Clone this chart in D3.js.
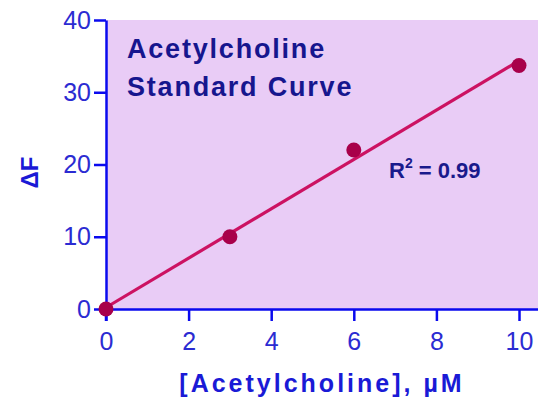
<!DOCTYPE html>
<html>
<head>
<meta charset="utf-8">
<script src="https://cdn.jsdelivr.net/npm/d3@7"></script>
<style>
  html, body { margin: 0; padding: 0; background: #fff; }
  svg { display: block; font-family: "Liberation Sans", Arial, sans-serif; }
</style>
</head>
<body>
<div id="chart"></div>
<script>
// data
const concentration = [0, 3, 6, 10];      // µM
const deltaF = [0, 10, 22, 33.7];
const xTicks = [0, 2, 4, 6, 8, 10];
const yTicks = [0, 10, 20, 30, 40];
const titleLines = ['Acetylcholine', 'Standard Curve'];
const rSquared = '0.99';

const width = 538, height = 404;
const margin = { top: 20, right: 0, bottom: 95, left: 106 };

const svg = d3.select('#chart').append('svg')
  .attr('width', width)
  .attr('height', height);

const x = d3.scaleLinear()
  .domain([0, 10.46])
  .range([margin.left, width - margin.right]);

const y = d3.scaleLinear()
  .domain([0, 40])
  .range([height - margin.bottom, margin.top]);

// plot background
svg.append('rect')
  .attr('x', x(0))
  .attr('y', y(40))
  .attr('width', x(10.46) - x(0))
  .attr('height', y(0) - y(40))
  .attr('fill', '#e9ccf6');

// least squares fit
const n = concentration.length;
const mx = d3.mean(concentration), my = d3.mean(deltaF);
let sxy = 0, sxx = 0;
for (let i = 0; i < n; i++) {
  sxy += (concentration[i] - mx) * (deltaF[i] - my);
  sxx += (concentration[i] - mx) ** 2;
}
const slope = sxy / sxx;
const intercept = my - slope * mx;

svg.append('line')
  .attr('x1', x(0)).attr('y1', y(intercept))
  .attr('x2', x(10)).attr('y2', y(intercept + slope * 10))
  .attr('stroke', '#cc1262')
  .attr('stroke-width', 3.2);

// Axes
const axisColor = '#0a0aee';
const tickColor = '#2b2bd2';
const tickFont = g => g.selectAll('text').attr('fill', tickColor).style('font-size', '25px')
  .style('font-family', '"Liberation Sans", Arial, sans-serif');

svg.append('g')
  .attr('transform', `translate(0,${y(0)})`)
  .call(d3.axisBottom(x).tickValues(xTicks).tickSize(12).tickPadding(11).tickSizeOuter(0))
  .call(g => g.select('.domain').attr('stroke', axisColor).attr('stroke-width', 2.5))
  .call(g => g.selectAll('.tick line').attr('stroke', axisColor).attr('stroke-width', 2.5))
  .call(tickFont);

svg.append('g')
  .attr('transform', `translate(${x(0)},0)`)
  .call(d3.axisLeft(y).tickValues(yTicks).tickSize(12).tickPadding(3).tickSizeOuter(0))
  .call(g => g.select('.domain').attr('stroke', axisColor).attr('stroke-width', 2.5))
  .call(g => g.selectAll('.tick line').attr('stroke', axisColor).attr('stroke-width', 2.5))
  .call(tickFont);

// y axis runs a little below the x axis, like the original
svg.append('line')
  .attr('x1', x(0)).attr('x2', x(0))
  .attr('y1', y(0)).attr('y2', y(0) + 12)
  .attr('stroke', axisColor)
  .attr('stroke-width', 2.5);

// Data points
svg.selectAll('circle.pt')
  .data(concentration)
  .enter().append('circle')
  .attr('class', 'pt')
  .attr('cx', (d, i) => x(d))
  .attr('cy', (d, i) => y(deltaF[i]))
  .attr('r', 7.5)
  .attr('fill', '#a8004a');

// Axis labels
svg.append('text')
  .attr('x', 322)
  .attr('y', 392)
  .attr('text-anchor', 'middle')
  .attr('fill', '#1a1ad6')
  .style('font-size', '25px')
  .style('font-weight', 'bold')
  .style('letter-spacing', '3px')
  .text('[Acetylcholine], \u00b5M');

svg.append('text')
  .attr('transform', `translate(38,${(y(0) + y(40)) / 2 + 8}) rotate(-90)`)
  .attr('text-anchor', 'middle')
  .attr('fill', '#1a1ad6')
  .style('font-size', '24px')
  .style('font-weight', 'bold')
  .text('\u0394F');

// Title inside plot
svg.append('text')
  .attr('x', 127)
  .attr('y', 58)
  .attr('fill', '#16168e')
  .style('font-size', '27px')
  .style('font-weight', 'bold')
  .style('letter-spacing', '1.8px')
  .selectAll('tspan')
  .data(titleLines)
  .enter().append('tspan')
  .attr('x', 127)
  .attr('dy', (d, i) => i === 0 ? 0 : 38)
  .text(d => d);

// R squared annotation
const r2 = svg.append('text')
  .attr('x', 389)
  .attr('y', 178)
  .attr('fill', '#1a1a8c')
  .style('font-size', '22px')
  .style('font-weight', 'bold');
r2.append('tspan').text('R');
r2.append('tspan').attr('dy', -10).style('font-size', '14px').text('2');
r2.append('tspan').attr('dy', 10).text(' = ' + rSquared);
</script>
</body>
</html>
